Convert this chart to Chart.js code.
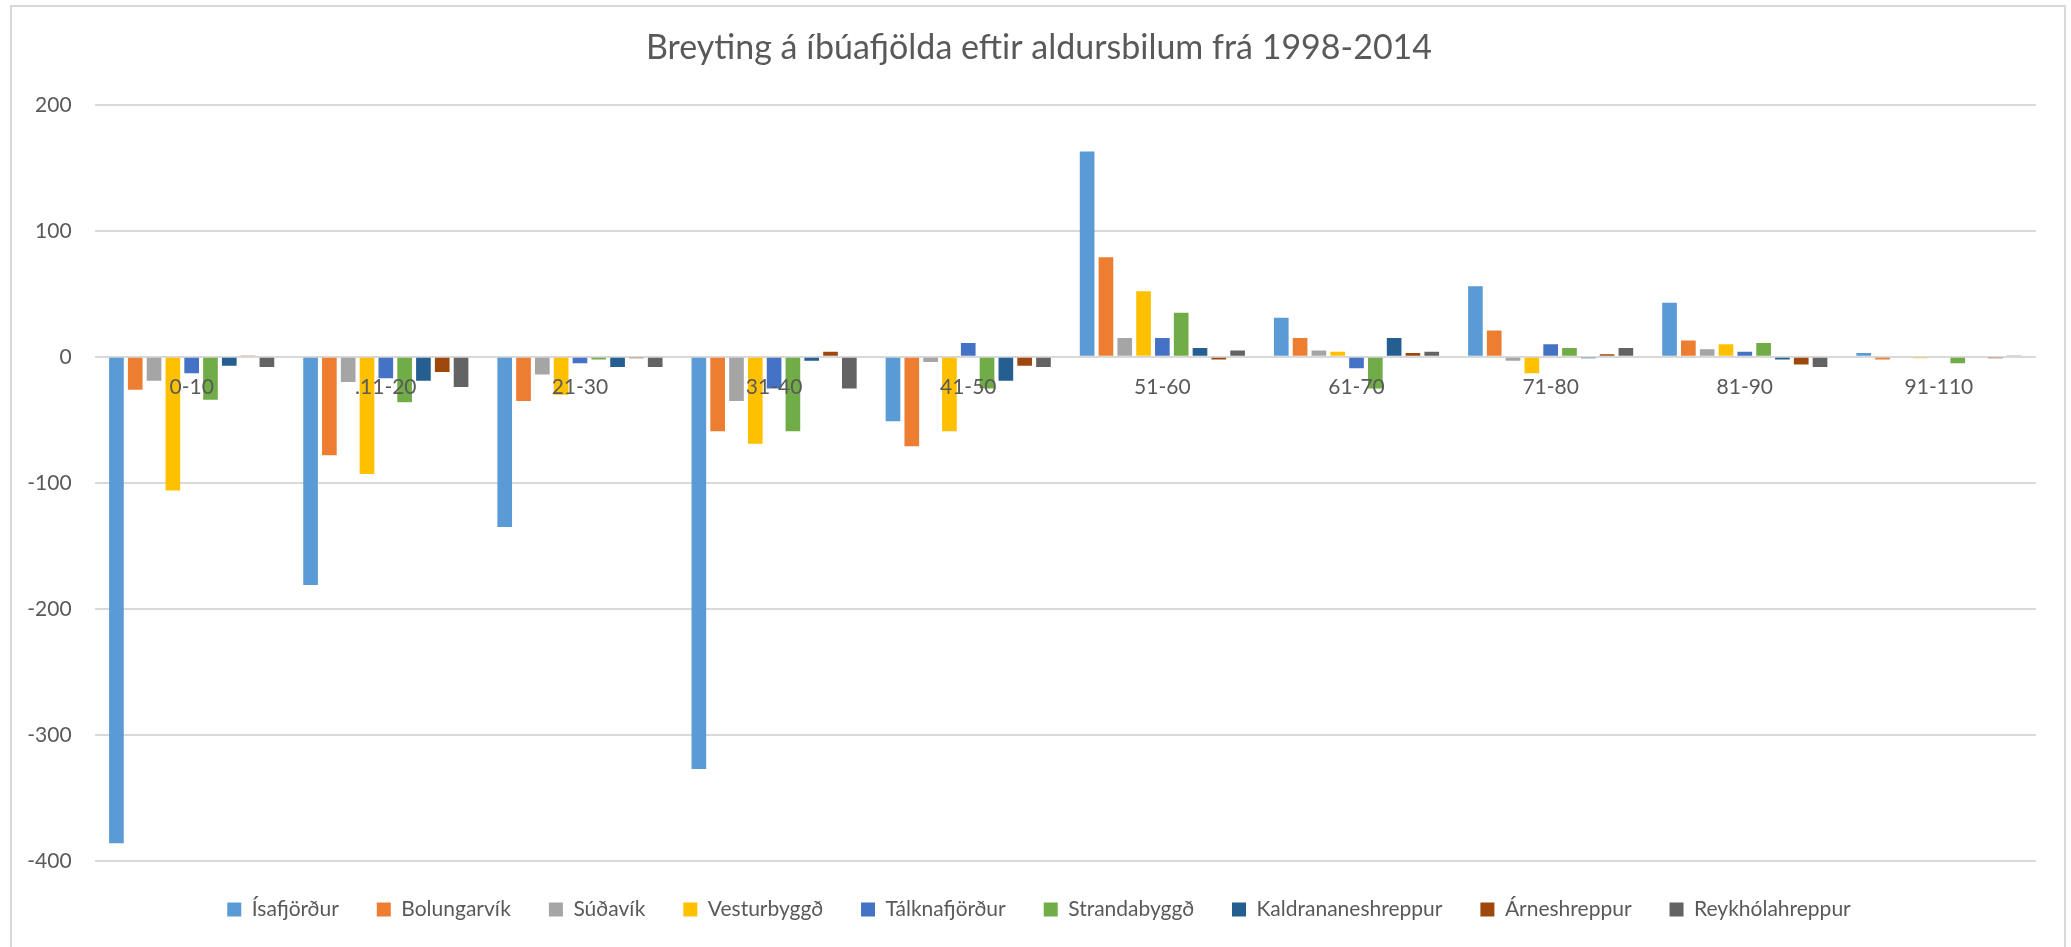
<!DOCTYPE html>
<html>
<head>
<meta charset="utf-8">
<script src="https://cdn.jsdelivr.net/npm/chart.js@4"></script>
<style>
  body { margin: 0; background: #fff; overflow: hidden; }
  #frame { position: absolute; left: 10px; top: 5px; width: 2052px; height: 1000px; border: 2px solid #d9d9d9; }
  #wrap { position: absolute; left: 0; top: 0; width: 2071px; height: 947px; }
</style>
</head>
<body>
<div id="frame"></div>
<div id="wrap"><canvas id="chart"></canvas></div>
<script>
// age groups (".11-20" is spelled like that in the source)
let ageGroups = ["0-10", ".11-20", "21-30", "31-40", "41-50", "51-60", "61-70", "71-80", "81-90", "91-110"];
let yTicks = [-400, -300, -200, -100, 0, 100, 200];

// change in population 1998-2014, per municipality
let isafjordur     = [-386, -181, -135, -327, -51, 163, 31, 56, 43, 3];
let bolungarvik    = [-26, -78, -35, -59, -71, 79, 15, 21, 13, -2];
let sudavik        = [-19, -20, -14, -35, -4, 15, 5, -3, 6, 0];
let vesturbyggd    = [-106, -93, -30, -69, -59, 52, 4, -13, 10, -1];
let talknafjordur  = [-13, -17, -5, -25, 11, 15, -9, 10, 4, 0];
let strandabyggd   = [-34, -36, -2, -59, -25, 35, -25, 7, 11, -5];
let kaldrananes    = [-7, -19, -8, -3, -19, 7, 15, -1, -2, 0];
let arneshreppur   = [1, -12, -1, 4, -7, -2, 3, 2, -6, -1];
let reykholahreppur = [-8, -24, -8, -25, -8, 5, 4, 7, -8, 1];

const textColor = "#595959";
const font = "Lato, 'Open Sans', sans-serif";

const ctx = document.getElementById("chart");

new Chart(ctx, {
  type: "bar",
  data: {
    labels: ageGroups,
    datasets: [
      { label: "Ísafjörður", data: isafjordur, backgroundColor: "#5B9BD5" },
      { label: "Bolungarvík", data: bolungarvik, backgroundColor: "#ED7D31" },
      { label: "Súðavík", data: sudavik, backgroundColor: "#A5A5A5" },
      { label: "Vesturbyggð", data: vesturbyggd, backgroundColor: "#FFC000" },
      { label: "Tálknafjörður", data: talknafjordur, backgroundColor: "#4472C4" },
      { label: "Strandabyggð", data: strandabyggd, backgroundColor: "#70AD47" },
      { label: "Kaldrananeshreppur", data: kaldrananes, backgroundColor: "#255E91" },
      { label: "Árneshreppur", data: arneshreppur, backgroundColor: "#9E480E" },
      { label: "Reykhólahreppur", data: reykholahreppur, backgroundColor: "#636363" }
    ]
  },
  options: {
    responsive: true,
    maintainAspectRatio: false,
    animation: false,
    categoryPercentage: 0.872,
    barPercentage: 0.78,
    layout: { padding: { left: 7, right: 0, top: 0, bottom: 17 } },
    plugins: {
      title: {
        display: true,
        text: "Breyting á íbúafjölda eftir aldursbilum frá 1998-2014",
        color: textColor,
        font: { family: font, size: 34, weight: "normal" },
        padding: { top: 28, bottom: 36 }
      },
      legend: {
        position: "bottom",
        labels: {
          color: textColor,
          font: { family: font, size: 21 },
          boxWidth: 14,
          boxHeight: 14,
          padding: 38
        }
      },
      tooltip: { enabled: false }
    },
    scales: {
      x: {
        position: { y: 0 },
        grid: { display: false, drawTicks: false },
        border: { display: false },
        ticks: {
          z: 1, // labels sit on top of the bars, like the original
          color: textColor,
          font: { family: font, size: 21 },
          padding: 18,
          autoSkip: false,
          maxRotation: 0
        }
      },
      y: {
        min: yTicks[0],
        max: yTicks[yTicks.length - 1],
        afterBuildTicks: (scale) => { scale.ticks = yTicks.map(v => ({ value: v })); },
        afterFit: (scale) => { scale.width = 87.6; },
        grid: { color: "#d9d9d9", lineWidth: 2, drawTicks: false },
        border: { display: false },
        ticks: {
          color: textColor,
          font: { family: font, size: 21 },
          padding: 23
        }
      },
      // empty right margin so title and legend centre on the frame
      y2: {
        position: "right",
        afterFit: (scale) => { scale.width = 35; },
        grid: { display: false, drawTicks: false },
        border: { display: false },
        ticks: { display: false }
      }
    }
  }
});
</script>
</body>
</html>
